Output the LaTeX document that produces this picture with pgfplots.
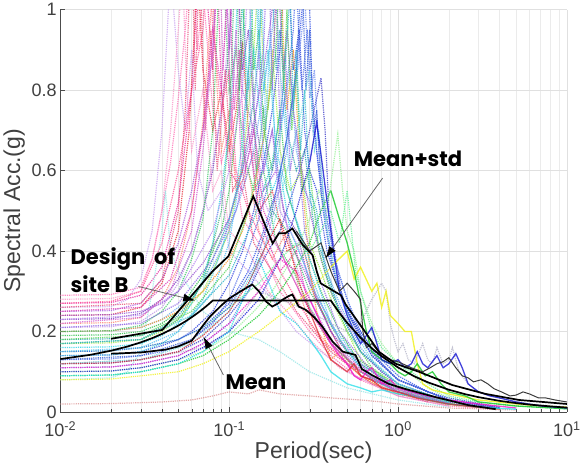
\documentclass[border=0pt]{standalone}
\usepackage{fontspec}
\setmainfont{Liberation Sans}
\newfontfamily\annfont{Poppins}
\usepackage{pgfplots}
\pgfplotsset{compat=1.18}
\usetikzlibrary{arrows.meta}
\definecolor{c1}{RGB}{255,110,180}
\definecolor{c2}{RGB}{230,40,160}
\definecolor{c3}{RGB}{230,50,60}
\definecolor{c4}{RGB}{250,130,110}
\definecolor{c5}{RGB}{170,90,220}
\definecolor{c6}{RGB}{120,60,190}
\definecolor{c7}{RGB}{190,150,230}
\definecolor{c8}{RGB}{40,190,70}
\definecolor{c9}{RGB}{150,230,60}
\definecolor{c10}{RGB}{40,210,230}
\definecolor{c11}{RGB}{30,160,170}
\definecolor{c12}{RGB}{100,170,240}
\definecolor{c13}{RGB}{40,60,220}
\definecolor{c14}{RGB}{70,100,230}
\definecolor{c15}{RGB}{60,60,200}
\definecolor{c16}{RGB}{110,140,240}
\definecolor{c17}{RGB}{150,240,150}
\definecolor{c18}{RGB}{240,240,20}
\definecolor{c19}{RGB}{20,200,40}
\definecolor{c20}{RGB}{20,20,210}
\definecolor{c21}{RGB}{240,20,200}
\definecolor{c22}{RGB}{20,220,230}
\definecolor{c23}{RGB}{220,30,40}
\definecolor{c24}{RGB}{220,150,150}
\definecolor{c25}{RGB}{150,230,230}
\definecolor{c26}{RGB}{200,160,240}
\definecolor{c27}{RGB}{250,150,200}
\definecolor{c28}{RGB}{250,150,40}
\definecolor{c29}{RGB}{100,240,150}
\definecolor{c30}{RGB}{60,60,60}
\definecolor{c31}{RGB}{180,180,200}
\definecolor{c32}{RGB}{60,200,100}
\definecolor{c33}{RGB}{50,80,230}
\definecolor{c34}{RGB}{255,80,150}
\definecolor{c35}{RGB}{60,200,220}
\definecolor{c36}{RGB}{150,80,210}
\definecolor{c37}{RGB}{230,80,120}
\definecolor{c38}{RGB}{210,90,210}
\definecolor{c39}{RGB}{60,180,120}
\definecolor{c40}{RGB}{80,190,240}
\definecolor{c41}{RGB}{140,100,230}
\definecolor{c42}{RGB}{80,210,80}
\definecolor{c43}{RGB}{50,90,210}
\definecolor{c44}{RGB}{40,180,200}
\definecolor{c45}{RGB}{220,60,180}
\definecolor{c46}{RGB}{180,130,240}
\definecolor{c47}{RGB}{110,220,220}
\begin{document}
\begin{tikzpicture}
\begin{axis}[
  width=506pt, height=402pt, scale only axis,
  xmode=log, xmin=0.01, xmax=10, ymin=0, ymax=1,
  xtick={0.01,0.1,1,10},
  xticklabels={10\textsuperscript{-2},10\textsuperscript{-1},10\textsuperscript{0},10\textsuperscript{1}},
  ytick={0,0.2,0.4,0.6,0.8,1},
  yticklabels={0,0.2,0.4,0.6,0.8,1},
  axis lines=left, axis line style={-, draw=black!70, line width=0.8pt},
  tick align=inside, major tick length=5pt, minor tick length=3pt,
  tick style={black!70},
  xmajorgrids, xminorgrids, ymajorgrids,
  major grid style={black!12, line width=0.6pt},
  minor grid style={black!8, line width=0.5pt},
  ticklabel style={font=\fontsize{18}{20}\selectfont, text=black!75},
  xticklabel style={yshift=-6pt},
  label style={font=\fontsize{23}{26}\selectfont, text=black!75},
  xlabel={Period(sec)}, ylabel={Spectral Acc.(g)},
  xlabel style={yshift=2pt},
  rec/.style={line width=1.2pt, opacity=0.8, densely dotted},
  srec/.style={line width=1.3pt, opacity=0.8},
]
\addplot[rec,c1] coordinates {(0.01,0.29)(0.02,0.292)(0.03,0.31)(0.035,0.38)(0.04,0.5)(0.045,0.62)(0.05,0.78)(0.055,0.95)(0.06,1.15)(0.065,0.9)(0.07,1.05)(0.08,0.75)(0.09,0.62)(0.1,0.7)(0.12,0.48)(0.15,0.42)(0.2,0.3)(0.3,0.2)(0.4,0.14)(0.6,0.08)(1,0.04)(2,0.015)(4,0.006)};
\addplot[rec,c2] coordinates {(0.01,0.27)(0.02,0.272)(0.03,0.29)(0.04,0.36)(0.05,0.52)(0.06,0.8)(0.065,1.05)(0.07,1.3)(0.075,1.0)(0.08,0.85)(0.085,1.1)(0.09,0.8)(0.1,0.6)(0.12,0.55)(0.14,0.65)(0.16,0.45)(0.2,0.35)(0.25,0.4)(0.3,0.25)(0.4,0.17)(0.6,0.1)(1,0.05)(2,0.02)(4,0.008)};
\addplot[rec,c3] coordinates {(0.01,0.24)(0.02,0.242)(0.03,0.26)(0.04,0.32)(0.05,0.45)(0.058,0.7)(0.065,1.1)(0.07,0.85)(0.08,0.7)(0.09,0.8)(0.1,0.65)(0.11,0.75)(0.12,0.92)(0.13,0.7)(0.15,0.5)(0.18,0.55)(0.22,0.4)(0.27,0.42)(0.33,0.28)(0.4,0.2)(0.5,0.13)(0.6,0.09)(0.8,0.07)(1,0.05)(2,0.02)(4,0.007)};
\addplot[rec,c4] coordinates {(0.01,0.22)(0.02,0.222)(0.03,0.235)(0.04,0.28)(0.05,0.36)(0.06,0.5)(0.07,0.72)(0.075,0.9)(0.08,1.05)(0.085,0.8)(0.09,0.65)(0.1,0.75)(0.11,0.55)(0.13,0.6)(0.15,0.45)(0.18,0.38)(0.22,0.45)(0.26,0.3)(0.3,0.22)(0.4,0.16)(0.6,0.09)(1,0.045)(2,0.018)};
\addplot[rec,c5] coordinates {(0.01,0.25)(0.02,0.252)(0.03,0.27)(0.04,0.33)(0.05,0.42)(0.06,0.55)(0.07,0.7)(0.08,0.9)(0.085,1.1)(0.09,1.4)(0.095,1.1)(0.1,0.9)(0.11,1.2)(0.12,0.8)(0.14,0.7)(0.16,0.55)(0.19,0.6)(0.23,0.42)(0.28,0.35)(0.35,0.25)(0.45,0.16)(0.6,0.11)(1,0.05)(2,0.02)(4,0.008)};
\addplot[rec,c6] coordinates {(0.01,0.23)(0.02,0.232)(0.03,0.245)(0.04,0.28)(0.05,0.33)(0.06,0.4)(0.07,0.5)(0.08,0.6)(0.09,0.75)(0.1,0.9)(0.105,1.1)(0.11,1.25)(0.115,1.0)(0.12,0.85)(0.13,0.95)(0.14,0.75)(0.16,0.6)(0.18,0.7)(0.21,0.5)(0.25,0.45)(0.3,0.32)(0.4,0.2)(0.5,0.15)(0.7,0.09)(1,0.05)(2,0.02)(4,0.007)};
\addplot[rec,c7] coordinates {(0.01,0.21)(0.02,0.212)(0.03,0.225)(0.04,0.26)(0.05,0.32)(0.06,0.4)(0.07,0.5)(0.08,0.62)(0.09,0.75)(0.1,0.95)(0.11,0.8)(0.12,0.7)(0.13,0.85)(0.14,0.6)(0.17,0.5)(0.2,0.55)(0.24,0.38)(0.3,0.28)(0.4,0.18)(0.6,0.1)(1,0.045)(2,0.018)};
\addplot[rec,c8] coordinates {(0.01,0.19)(0.02,0.192)(0.03,0.2)(0.04,0.22)(0.05,0.25)(0.06,0.3)(0.07,0.34)(0.08,0.4)(0.09,0.45)(0.1,0.55)(0.11,0.7)(0.12,0.9)(0.125,1.1)(0.13,1.3)(0.135,1.05)(0.14,0.85)(0.15,0.95)(0.16,0.7)(0.18,0.6)(0.2,0.75)(0.22,0.55)(0.26,0.45)(0.3,0.38)(0.35,0.3)(0.45,0.2)(0.6,0.12)(1,0.055)(2,0.02)(4,0.008)};
\addplot[rec,c9] coordinates {(0.01,0.17)(0.02,0.172)(0.03,0.18)(0.04,0.2)(0.05,0.23)(0.06,0.27)(0.07,0.3)(0.08,0.35)(0.1,0.45)(0.12,0.62)(0.13,0.75)(0.14,0.9)(0.15,1.1)(0.16,0.85)(0.17,0.75)(0.18,0.9)(0.2,0.65)(0.23,0.55)(0.27,0.6)(0.3,0.42)(0.35,0.35)(0.4,0.28)(0.5,0.2)(0.6,0.13)(0.8,0.09)(1,0.06)(2,0.022)(4,0.008)};
\addplot[rec,c10] coordinates {(0.01,0.16)(0.02,0.162)(0.03,0.17)(0.04,0.19)(0.05,0.22)(0.06,0.27)(0.07,0.33)(0.08,0.42)(0.09,0.55)(0.1,0.7)(0.11,0.95)(0.115,1.2)(0.12,1.0)(0.13,0.8)(0.14,0.9)(0.16,0.65)(0.18,0.55)(0.2,0.6)(0.23,0.45)(0.27,0.38)(0.32,0.3)(0.4,0.22)(0.5,0.15)(0.7,0.08)(1,0.05)(2,0.02)(4,0.008)};
\addplot[rec,c11] coordinates {(0.01,0.18)(0.02,0.182)(0.03,0.19)(0.04,0.21)(0.05,0.24)(0.06,0.28)(0.07,0.32)(0.08,0.38)(0.1,0.48)(0.12,0.6)(0.14,0.78)(0.15,0.9)(0.16,1.1)(0.17,1.4)(0.18,1.05)(0.19,0.85)(0.2,0.95)(0.22,0.7)(0.25,0.6)(0.28,0.65)(0.32,0.45)(0.38,0.35)(0.45,0.25)(0.6,0.15)(0.8,0.1)(1,0.07)(2,0.025)(4,0.009)};
\addplot[rec,c12] coordinates {(0.01,0.2)(0.02,0.202)(0.03,0.21)(0.04,0.23)(0.05,0.26)(0.06,0.29)(0.07,0.32)(0.08,0.36)(0.1,0.45)(0.12,0.55)(0.14,0.65)(0.16,0.8)(0.18,0.95)(0.19,1.05)(0.2,0.85)(0.21,0.75)(0.23,0.85)(0.25,0.65)(0.28,0.55)(0.32,0.5)(0.38,0.35)(0.45,0.27)(0.6,0.16)(0.8,0.1)(1,0.07)(2,0.025)(4,0.009)};
\addplot[rec,c13] coordinates {(0.01,0.14)(0.02,0.142)(0.03,0.15)(0.04,0.165)(0.05,0.18)(0.06,0.2)(0.08,0.25)(0.1,0.32)(0.12,0.4)(0.14,0.5)(0.16,0.62)(0.18,0.75)(0.2,0.9)(0.21,1.05)(0.22,1.2)(0.23,1.0)(0.24,0.85)(0.26,0.95)(0.28,0.7)(0.3,0.6)(0.33,0.55)(0.38,0.4)(0.45,0.3)(0.55,0.22)(0.7,0.14)(1,0.08)(2,0.03)(4,0.01)};
\addplot[rec,c14] coordinates {(0.01,0.13)(0.02,0.132)(0.03,0.14)(0.04,0.15)(0.05,0.165)(0.06,0.18)(0.08,0.22)(0.1,0.28)(0.12,0.36)(0.15,0.48)(0.18,0.6)(0.2,0.7)(0.22,0.82)(0.24,0.95)(0.25,1.1)(0.26,0.9)(0.27,0.8)(0.29,0.95)(0.31,0.75)(0.34,0.6)(0.38,0.48)(0.42,0.38)(0.5,0.28)(0.6,0.2)(0.8,0.12)(1,0.08)(2,0.03)(4,0.01)};
\addplot[rec,c15] coordinates {(0.01,0.12)(0.02,0.122)(0.03,0.13)(0.05,0.15)(0.07,0.18)(0.1,0.24)(0.13,0.3)(0.16,0.38)(0.2,0.45)(0.24,0.55)(0.27,0.62)(0.3,0.7)(0.33,0.78)(0.35,0.83)(0.37,0.7)(0.39,0.5)(0.42,0.4)(0.46,0.3)(0.5,0.25)(0.6,0.18)(0.8,0.12)(1,0.08)(2,0.03)(4,0.01)};
\addplot[rec,c16] coordinates {(0.01,0.11)(0.02,0.112)(0.03,0.12)(0.05,0.14)(0.07,0.17)(0.1,0.22)(0.13,0.3)(0.16,0.4)(0.19,0.52)(0.22,0.65)(0.25,0.82)(0.27,0.95)(0.28,1.05)(0.29,0.9)(0.3,0.78)(0.32,0.85)(0.34,0.65)(0.37,0.5)(0.42,0.38)(0.5,0.28)(0.6,0.19)(0.8,0.12)(1,0.08)(2,0.03)(4,0.01)};
\addplot[rec,c17] coordinates {(0.01,0.1)(0.02,0.102)(0.03,0.11)(0.05,0.13)(0.07,0.15)(0.1,0.19)(0.14,0.25)(0.18,0.3)(0.22,0.36)(0.26,0.42)(0.3,0.48)(0.34,0.55)(0.38,0.5)(0.41,0.6)(0.44,0.69)(0.47,0.55)(0.5,0.45)(0.55,0.4)(0.6,0.3)(0.7,0.22)(0.8,0.17)(1,0.12)(1.5,0.06)(2,0.035)(4,0.012)};
\addplot[rec,c24] coordinates {(0.01,0.02)(0.02,0.021)(0.04,0.025)(0.06,0.03)(0.08,0.04)(0.1,0.05)(0.13,0.045)(0.15,0.055)(0.2,0.045)(0.3,0.04)(0.4,0.035)(0.6,0.03)(0.8,0.025)(1,0.02)(2,0.01)(5,0.005)};
\addplot[rec,c25] coordinates {(0.01,0.08)(0.02,0.085)(0.025,0.1)(0.03,0.15)(0.035,0.3)(0.04,0.45)(0.042,0.55)(0.045,0.4)(0.05,0.35)(0.06,0.3)(0.07,0.25)(0.1,0.2)(0.15,0.18)(0.2,0.15)(0.3,0.1)(0.5,0.06)(1,0.03)(2,0.012)};
\addplot[rec,c26] coordinates {(0.01,0.26)(0.02,0.262)(0.025,0.28)(0.03,0.33)(0.035,0.45)(0.04,0.7)(0.045,1.1)(0.05,0.85)(0.055,0.7)(0.06,0.9)(0.065,0.6)(0.075,0.5)(0.09,0.55)(0.1,0.4)(0.13,0.35)(0.18,0.28)(0.25,0.2)(0.35,0.15)(0.5,0.1)(1,0.04)(2,0.015)};
\addplot[rec,c27] coordinates {(0.01,0.28)(0.02,0.282)(0.03,0.3)(0.035,0.38)(0.04,0.5)(0.045,0.7)(0.05,0.95)(0.053,1.1)(0.056,0.8)(0.06,0.65)(0.07,0.8)(0.08,0.55)(0.09,0.6)(0.1,0.45)(0.13,0.4)(0.17,0.3)(0.22,0.25)(0.3,0.18)(0.45,0.11)(0.7,0.07)(1,0.04)(2,0.015)};
\addplot[rec,c28] coordinates {(0.01,0.2)(0.02,0.202)(0.03,0.21)(0.04,0.23)(0.05,0.25)(0.07,0.3)(0.1,0.38)(0.12,0.45)(0.14,0.55)(0.16,0.68)(0.18,0.85)(0.2,1.2)(0.21,0.9)(0.22,0.75)(0.24,0.9)(0.26,0.65)(0.28,0.5)(0.3,0.35)(0.33,0.25)(0.36,0.2)(0.4,0.13)(0.45,0.15)(0.5,0.12)(0.6,0.09)(0.8,0.06)(1,0.045)(2,0.018)(4,0.007)};
\addplot[rec,c29] coordinates {(0.01,0.15)(0.02,0.152)(0.03,0.16)(0.05,0.18)(0.07,0.21)(0.1,0.26)(0.15,0.32)(0.2,0.38)(0.25,0.42)(0.3,0.4)(0.35,0.45)(0.4,0.5)(0.45,0.42)(0.5,0.55)(0.53,0.45)(0.56,0.35)(0.6,0.3)(0.65,0.25)(0.7,0.2)(0.8,0.16)(1,0.12)(1.2,0.1)(1.5,0.07)(2,0.04)(3,0.025)(5,0.015)(10,0.008)};
\addplot[rec,c31] coordinates {(0.01,0.12)(0.03,0.13)(0.07,0.16)(0.1,0.2)(0.15,0.3)(0.2,0.28)(0.3,0.25)(0.4,0.22)(0.5,0.2)(0.6,0.22)(0.7,0.28)(0.8,0.32)(0.85,0.3)(0.9,0.22)(0.95,0.18)(1,0.15)(1.07,0.17)(1.15,0.13)(1.25,0.12)(1.4,0.17)(1.5,0.13)(1.6,0.12)(1.7,0.16)(1.85,0.12)(2,0.13)(2.1,0.16)(2.3,0.1)(2.6,0.07)(3,0.05)(4,0.035)(6,0.02)(10,0.012)};
\addplot[rec,c32] coordinates {(0.01,0.2)(0.02,0.202)(0.03,0.215)(0.04,0.25)(0.05,0.3)(0.06,0.38)(0.07,0.48)(0.08,0.7)(0.085,0.95)(0.09,1.3)(0.095,1.0)(0.1,0.8)(0.11,0.9)(0.12,0.65)(0.14,0.55)(0.16,0.6)(0.19,0.42)(0.24,0.35)(0.3,0.26)(0.4,0.17)(0.6,0.1)(1,0.05)(2,0.02)};
\addplot[rec,c33] coordinates {(0.01,0.15)(0.02,0.152)(0.03,0.16)(0.05,0.18)(0.07,0.21)(0.1,0.27)(0.13,0.35)(0.16,0.45)(0.19,0.55)(0.22,0.68)(0.25,0.85)(0.27,1.0)(0.29,1.2)(0.3,1.0)(0.31,0.8)(0.33,0.65)(0.36,0.5)(0.4,0.38)(0.45,0.3)(0.5,0.25)(0.6,0.2)(0.7,0.16)(0.8,0.13)(1,0.09)(1.5,0.05)(2,0.035)(4,0.012)};
\addplot[rec,c34] coordinates {(0.01,0.27)(0.02,0.275)(0.03,0.3)(0.04,0.42)(0.05,0.6)(0.06,0.8)(0.07,0.95)(0.075,1.2)(0.08,0.95)(0.09,0.75)(0.1,0.85)(0.11,0.6)(0.13,0.5)(0.16,0.42)(0.2,0.35)(0.25,0.28)(0.35,0.18)(0.5,0.12)(1,0.05)(2,0.02)};
\addplot[rec,c35] coordinates {(0.01,0.14)(0.02,0.142)(0.03,0.15)(0.04,0.17)(0.05,0.2)(0.07,0.28)(0.09,0.4)(0.11,0.55)(0.12,0.68)(0.13,0.85)(0.14,1.05)(0.145,1.2)(0.15,0.95)(0.16,0.8)(0.17,0.9)(0.19,0.65)(0.22,0.55)(0.26,0.45)(0.3,0.35)(0.36,0.26)(0.45,0.18)(0.6,0.11)(0.8,0.07)(1,0.05)(2,0.02)};
\addplot[rec,c36] coordinates {(0.01,0.24)(0.02,0.242)(0.03,0.25)(0.04,0.27)(0.05,0.3)(0.07,0.37)(0.1,0.48)(0.12,0.6)(0.14,0.72)(0.16,0.85)(0.18,1.0)(0.19,1.15)(0.2,1.0)(0.21,0.85)(0.22,0.95)(0.24,0.75)(0.27,0.6)(0.3,0.5)(0.35,0.38)(0.4,0.3)(0.5,0.22)(0.6,0.15)(0.8,0.1)(1,0.07)(2,0.025)(4,0.01)};
\addplot[rec,c37] coordinates {(0.01,0.26)(0.03,0.27)(0.04,0.33)(0.05,0.5)(0.055,0.75)(0.06,1.2)(0.063,0.8)(0.067,1.15)(0.072,0.7)(0.078,0.95)(0.085,0.6)(0.095,0.85)(0.105,0.55)(0.12,0.6)(0.14,0.42)(0.18,0.35)(0.25,0.25)(0.4,0.15)(0.7,0.07)(1.5,0.025)};
\addplot[rec,c38] coordinates {(0.01,0.22)(0.03,0.235)(0.045,0.3)(0.06,0.45)(0.07,0.65)(0.08,0.9)(0.087,1.2)(0.092,0.85)(0.097,1.05)(0.103,0.7)(0.11,0.95)(0.118,0.6)(0.13,0.7)(0.15,0.48)(0.2,0.4)(0.3,0.25)(0.5,0.12)(1,0.05)};
\addplot[rec,c39] coordinates {(0.01,0.17)(0.03,0.18)(0.05,0.23)(0.07,0.32)(0.09,0.5)(0.1,0.7)(0.105,0.95)(0.11,1.2)(0.115,0.8)(0.12,1.1)(0.127,0.75)(0.135,0.95)(0.145,0.6)(0.16,0.75)(0.18,0.5)(0.22,0.45)(0.3,0.3)(0.5,0.15)(1,0.06)(2,0.02)};
\addplot[rec,c40] coordinates {(0.01,0.15)(0.03,0.16)(0.05,0.2)(0.08,0.3)(0.1,0.42)(0.12,0.62)(0.13,0.85)(0.14,1.25)(0.15,0.85)(0.155,1.1)(0.165,0.7)(0.175,0.95)(0.19,0.6)(0.21,0.75)(0.24,0.5)(0.3,0.38)(0.4,0.22)(0.6,0.12)(1,0.06)(2,0.022)};
\addplot[rec,c41] coordinates {(0.01,0.21)(0.03,0.22)(0.05,0.27)(0.08,0.38)(0.11,0.5)(0.14,0.7)(0.16,0.9)(0.17,1.2)(0.18,0.8)(0.19,1.05)(0.2,0.7)(0.215,0.9)(0.23,0.6)(0.25,0.7)(0.28,0.45)(0.33,0.35)(0.45,0.2)(0.7,0.1)(1,0.06)(2,0.022)};
\addplot[rec,c42] coordinates {(0.01,0.18)(0.03,0.19)(0.06,0.25)(0.1,0.36)(0.13,0.5)(0.16,0.68)(0.19,0.9)(0.2,1.15)(0.21,0.8)(0.22,1.0)(0.235,0.7)(0.25,0.85)(0.27,0.55)(0.3,0.6)(0.34,0.4)(0.4,0.3)(0.5,0.2)(0.7,0.11)(1,0.065)(2,0.025)};
\addplot[rec,c43] coordinates {(0.01,0.13)(0.03,0.14)(0.06,0.18)(0.1,0.26)(0.14,0.36)(0.18,0.5)(0.22,0.68)(0.25,0.85)(0.27,1.1)(0.285,0.8)(0.3,0.95)(0.315,0.7)(0.33,0.75)(0.35,0.55)(0.38,0.45)(0.42,0.35)(0.5,0.25)(0.7,0.14)(1,0.08)(2,0.03)(4,0.01)};
\addplot[rec,c44] coordinates {(0.01,0.17)(0.03,0.18)(0.06,0.24)(0.1,0.34)(0.14,0.48)(0.18,0.62)(0.21,0.8)(0.23,1.05)(0.24,0.75)(0.25,0.9)(0.265,0.65)(0.28,0.8)(0.3,0.55)(0.33,0.5)(0.37,0.35)(0.45,0.25)(0.6,0.15)(1,0.07)(2,0.025)};
\addplot[rec,c45] coordinates {(0.01,0.25)(0.03,0.26)(0.045,0.33)(0.06,0.5)(0.07,0.7)(0.08,0.95)(0.09,0.8)(0.1,1.1)(0.107,0.75)(0.115,0.9)(0.125,0.6)(0.14,0.7)(0.16,0.5)(0.2,0.4)(0.26,0.3)(0.4,0.17)(0.7,0.08)(1.5,0.03)};
\addplot[rec,c46] coordinates {(0.01,0.23)(0.03,0.24)(0.05,0.3)(0.08,0.45)(0.1,0.6)(0.12,0.8)(0.13,1.1)(0.14,0.75)(0.15,0.9)(0.16,0.6)(0.18,0.7)(0.2,0.5)(0.25,0.42)(0.32,0.3)(0.45,0.18)(0.7,0.09)(1,0.055)(2,0.02)};
\addplot[rec,c47] coordinates {(0.01,0.12)(0.03,0.13)(0.06,0.17)(0.1,0.25)(0.14,0.35)(0.18,0.45)(0.22,0.6)(0.26,0.72)(0.3,0.85)(0.32,0.65)(0.34,0.7)(0.37,0.48)(0.4,0.4)(0.45,0.3)(0.55,0.2)(0.7,0.13)(1,0.07)(2,0.025)};
% records standing out at long periods: short-period part dotted, long-period part solid
\addplot[rec,c18] coordinates {(0.01,0.08)(0.02,0.082)(0.03,0.09)(0.05,0.1)(0.07,0.12)(0.1,0.15)(0.15,0.2)(0.2,0.24)(0.3,0.3)(0.4,0.36)};
\addplot[srec,c18] coordinates {(0.4,0.36)(0.5,0.4)(0.55,0.33)(0.6,0.36)(0.7,0.3)(0.75,0.32)(0.8,0.26)(0.85,0.3)(0.9,0.24)(1,0.22)(1.1,0.2)(1.2,0.2)(1.3,0.12)(1.4,0.07)(1.6,0.055)(2,0.045)(3,0.03)(5,0.02)(7,0.015)(10,0.012)};
\addplot[rec,c19] coordinates {(0.01,0.09)(0.02,0.092)(0.03,0.1)(0.05,0.12)(0.07,0.14)(0.1,0.18)(0.15,0.24)(0.2,0.3)(0.25,0.36)(0.3,0.42)(0.35,0.5)(0.4,0.55)};
\addplot[srec,c19] coordinates {(0.4,0.55)(0.45,0.48)(0.5,0.42)(0.55,0.35)(0.6,0.27)(0.65,0.2)(0.7,0.15)(0.8,0.13)(0.9,0.12)(1,0.1)(1.1,0.09)(1.2,0.1)(1.3,0.12)(1.45,0.09)(1.6,0.1)(1.8,0.07)(2,0.05)(2.5,0.04)(3,0.025)(5,0.015)(10,0.008)};
\addplot[rec,c20] coordinates {(0.01,0.1)(0.02,0.102)(0.03,0.11)(0.05,0.13)(0.07,0.16)(0.1,0.2)(0.15,0.28)(0.2,0.38)(0.25,0.5)(0.3,0.62)};
\addplot[srec,c20] coordinates {(0.3,0.62)(0.33,0.72)(0.36,0.6)(0.4,0.45)(0.45,0.3)(0.5,0.24)(0.55,0.2)(0.6,0.17)(0.65,0.19)(0.7,0.21)(0.75,0.17)(0.8,0.13)(0.9,0.12)(1,0.13)(1.1,0.11)(1.2,0.12)(1.3,0.15)(1.4,0.12)(1.5,0.11)(1.7,0.14)(1.85,0.11)(2,0.12)(2.2,0.145)(2.4,0.11)(2.6,0.07)(3,0.05)(3.5,0.04)(4,0.035)(5,0.025)(7,0.015)(10,0.01)};
\addplot[rec,c21] coordinates {(0.01,0.11)(0.02,0.112)(0.03,0.12)(0.05,0.14)(0.07,0.17)(0.1,0.22)(0.15,0.3)(0.2,0.38)(0.25,0.35)(0.3,0.28)};
\addplot[srec,c21] coordinates {(0.3,0.28)(0.35,0.22)(0.4,0.17)(0.45,0.14)(0.5,0.12)(0.55,0.09)(0.6,0.08)(0.65,0.1)(0.7,0.11)(0.75,0.09)(0.8,0.07)(0.9,0.08)(1,0.06)(1.2,0.05)(1.5,0.04)(2,0.03)(3,0.02)(5,0.01)};
\addplot[rec,c22] coordinates {(0.01,0.09)(0.02,0.092)(0.03,0.1)(0.05,0.12)(0.07,0.15)(0.1,0.2)(0.12,0.28)(0.15,0.38)(0.18,0.3)(0.2,0.25)(0.25,0.22)(0.3,0.18)};
\addplot[srec,c22,opacity=0.7] coordinates {(0.3,0.18)(0.35,0.14)(0.4,0.1)(0.5,0.07)(0.6,0.06)(0.7,0.05)(0.8,0.055)(1,0.045)(1.2,0.04)(1.5,0.03)(2,0.02)(3,0.012)(5,0.007)};
\addplot[rec,c23] coordinates {(0.01,0.12)(0.02,0.122)(0.03,0.13)(0.05,0.15)(0.07,0.19)(0.1,0.25)(0.13,0.32)(0.16,0.4)(0.2,0.48)(0.23,0.4)(0.27,0.3)(0.3,0.25)};
\addplot[srec,c23,opacity=0.7] coordinates {(0.3,0.25)(0.35,0.18)(0.4,0.13)(0.5,0.1)(0.55,0.12)(0.6,0.09)(0.7,0.08)(0.8,0.06)(1,0.05)(1.3,0.035)(2,0.02)(3,0.012)};
% dark record
\addplot[c30,line width=1pt] coordinates {(0.25,0.45)(0.3,0.4)(0.35,0.42)(0.4,0.35)(0.45,0.3)(0.5,0.32)(0.55,0.3)(0.6,0.28)(0.62,0.2)(0.65,0.16)(0.7,0.17)(0.8,0.14)(0.9,0.13)(1,0.125)(1.2,0.11)(1.4,0.1)(1.55,0.11)(1.7,0.12)(1.85,0.125)(2,0.135)(2.2,0.11)(2.4,0.09)(2.6,0.085)(2.8,0.075)(3.1,0.08)(3.4,0.07)(3.7,0.058)(4.1,0.05)(4.6,0.04)(5,0.042)(5.5,0.05)(6,0.045)(6.8,0.035)(7.5,0.035)(8.5,0.03)(10,0.025)};
% design spectrum of site B
\addplot[black,line width=1.7pt] coordinates {(0.01,0.1316)(0.015,0.142)(0.02,0.1524)(0.025,0.1627)(0.03,0.1731)(0.035,0.1835)(0.04,0.1939)(0.045,0.2043)(0.05,0.2147)(0.055,0.2251)(0.06,0.2355)(0.065,0.2458)(0.07,0.2562)(0.075,0.2666)(0.08,0.277)(0.4,0.277)(0.45,0.2462)(0.5,0.2216)(0.6,0.1847)(0.7,0.1583)(0.8,0.1385)(1,0.1108)(1.25,0.0886)(1.5,0.0739)(2,0.0554)(2.5,0.0443)(3,0.0369)(4,0.0277)(5,0.0222)(6,0.0185)(8,0.0139)(10,0.0111)};
% mean
\addplot[black,line width=1.7pt] coordinates {(0.02,0.145)(0.03,0.148)(0.042,0.155)(0.05,0.163)(0.06,0.177)(0.07,0.215)(0.077,0.237)(0.09,0.265)(0.1,0.282)(0.117,0.3)(0.137,0.317)(0.15,0.3)(0.165,0.275)(0.18,0.262)(0.195,0.27)(0.207,0.279)(0.225,0.288)(0.237,0.292)(0.258,0.262)(0.284,0.254)(0.32,0.235)(0.357,0.212)(0.41,0.175)(0.47,0.15)(0.56,0.142)(0.61,0.107)(0.7,0.092)(0.88,0.07)(1.11,0.057)(1.67,0.037)(2.62,0.017)(3.79,0.007)};
% mean + std
\addplot[black,line width=1.7pt] coordinates {(0.02,0.182)(0.0402,0.204)(0.0795,0.349)(0.099,0.387)(0.139,0.536)(0.181,0.419)(0.197,0.444)(0.215,0.444)(0.237,0.456)(0.272,0.416)(0.312,0.39)(0.33,0.35)(0.348,0.32)(0.46,0.29)(0.49,0.267)(0.62,0.207)(0.77,0.15)(0.97,0.12)(1.33,0.1)(2.1,0.067)(3.3,0.045)(5.2,0.03)(10,0.02)};
% annotations
\draw[black!60,line width=0.8pt,-{Latex[length=12pt,width=8pt,black]}] (axis cs:0.81,0.581) -- (axis cs:0.372,0.382);
\draw[black!60,line width=0.8pt,-{Latex[length=12pt,width=8pt,black]}] (axis cs:0.029,0.312) -- (axis cs:0.063,0.277);
\draw[black!60,line width=0.8pt,-{Latex[length=12pt,width=8pt,black]}] (axis cs:0.0925,0.092) -- (axis cs:0.0705,0.187);
\node[anchor=base west,inner sep=0pt,font=\annfont\bfseries\fontsize{21}{24}\selectfont] at (axis cs:0.546,0.611) {Mean+std};
\node[anchor=base west,inner sep=0pt,font=\annfont\bfseries\fontsize{21}{24}\selectfont] at (axis cs:0.0115,0.367) {Design\ \ of};
\node[anchor=base west,inner sep=0pt,font=\annfont\bfseries\fontsize{21}{24}\selectfont] at (axis cs:0.0115,0.297) {site B};
\node[anchor=base west,inner sep=0pt,font=\annfont\bfseries\fontsize{21}{24}\selectfont] at (axis cs:0.095,0.055) {Mean};
\end{axis}
\end{tikzpicture}
\end{document}
